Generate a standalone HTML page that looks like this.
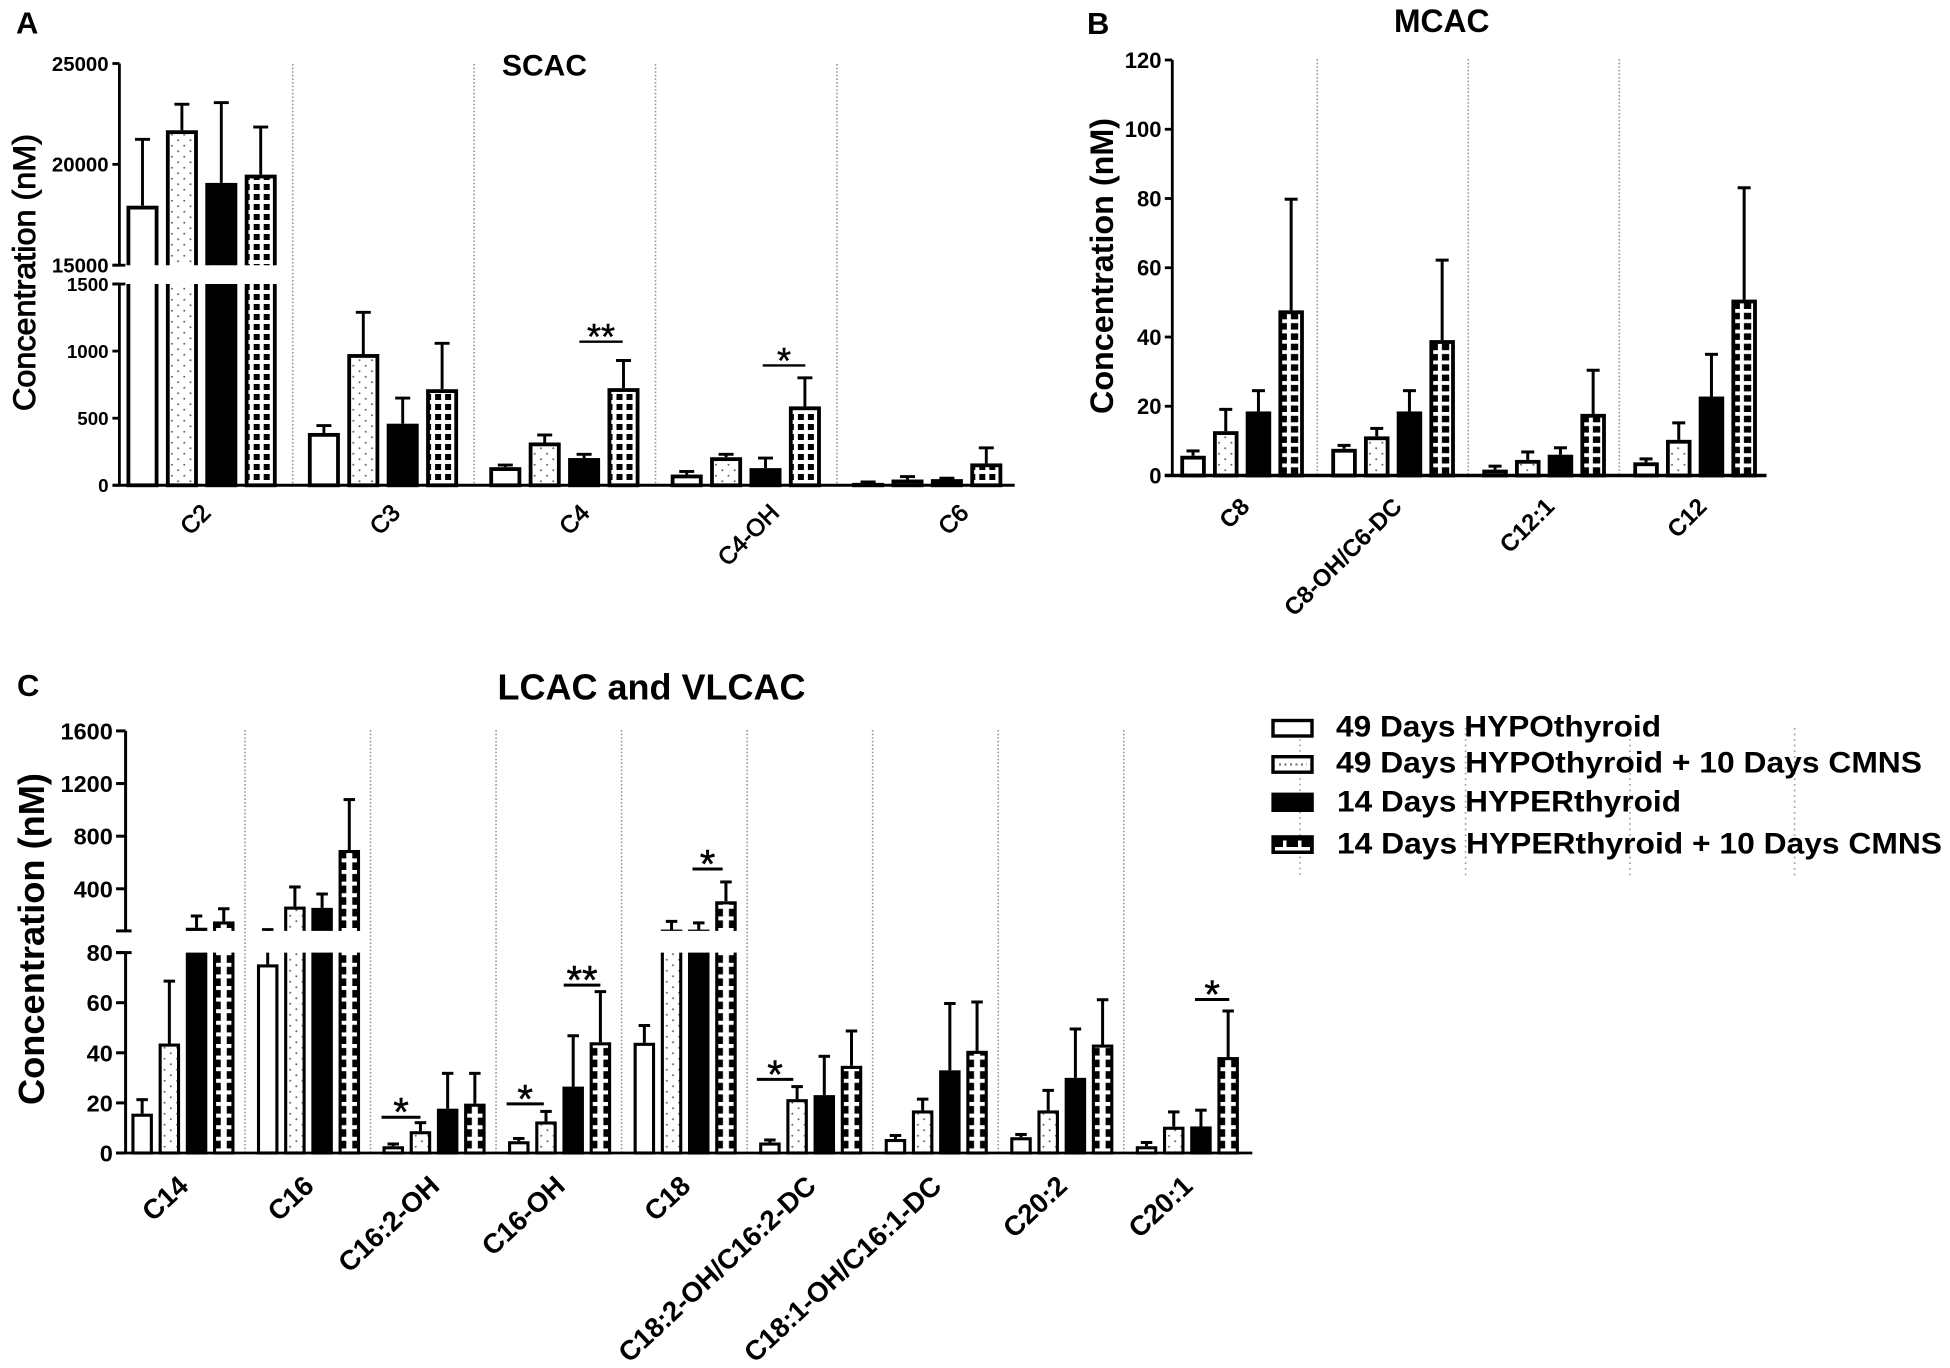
<!DOCTYPE html>
<html lang="en">
<head>
<meta charset="utf-8">
<title>Acylcarnitine concentrations</title>
<style>
html,body{margin:0;padding:0;background:#fff;}
svg{display:block;}
text{font-family:"Liberation Sans",sans-serif;fill:#000;}
</style>
</head>
<body>
<svg id="figure" xmlns="http://www.w3.org/2000/svg" width="1950" height="1368" viewBox="0 0 1950 1368">
<rect width="1950" height="1368" fill="#fff"/>
<defs id="defs"></defs>

<text x="16" y="33.5" font-size="31" font-weight="bold">A</text>
<text x="502" y="75.4" font-size="30" font-weight="bold" textLength="85" lengthAdjust="spacingAndGlyphs">SCAC</text>
<text transform="translate(35,411) rotate(-90)" font-size="31.5" stroke="#000" stroke-width="0.9" textLength="277" lengthAdjust="spacingAndGlyphs">Concentration (nM)</text>

<text x="1087" y="34" font-size="31" font-weight="bold">B</text>
<text x="1394" y="31.8" font-size="32" font-weight="bold" textLength="95.5" lengthAdjust="spacingAndGlyphs">MCAC</text>
<text transform="translate(1113,414) rotate(-90)" font-size="32.3" font-weight="bold" textLength="296" lengthAdjust="spacingAndGlyphs">Concentration (nM)</text>

<text x="17" y="696" font-size="31" font-weight="bold">C</text>
<text x="497.5" y="699.7" font-size="36" font-weight="bold" textLength="308" lengthAdjust="spacingAndGlyphs">LCAC and VLCAC</text>
<text transform="translate(44,1105) rotate(-90)" font-size="36" font-weight="bold" textLength="332" lengthAdjust="spacingAndGlyphs">Concentration (nM)</text>

<g id="panel-a"></g>
<g id="panel-b"></g>
<g id="panel-c"></g>

<g>
  <g stroke="#999" stroke-width="1.6" stroke-dasharray="1.6 4">
    <line x1="1300" y1="739" x2="1300" y2="878"/>
    <line x1="1465.6" y1="728" x2="1465.6" y2="878"/>
    <line x1="1630" y1="728" x2="1630" y2="878"/>
    <line x1="1794.6" y1="728" x2="1794.6" y2="878"/>
  </g>
  <g>
    <rect x="1273" y="720.5" width="39" height="15.5" fill="#fff" stroke="#000" stroke-width="3.4"/>
    <text x="1336" y="736.6" font-size="30" font-weight="bold" textLength="325" lengthAdjust="spacingAndGlyphs">49 Days HYPOthyroid</text>
  </g>
  <g>
    <rect x="1273" y="756.7" width="39" height="15.5" fill="#fff" stroke="#000" stroke-width="3.4"/>
    <line x1="1279" y1="764.5" x2="1307" y2="764.5" stroke="#777" stroke-width="2.2" stroke-dasharray="2 3.5"/>
    <text x="1336" y="772.6" font-size="30" font-weight="bold" textLength="586" lengthAdjust="spacingAndGlyphs">49 Days HYPOthyroid + 10 Days CMNS</text>
  </g>
  <g>
    <rect x="1271.4" y="792.6" width="42.4" height="19.4" fill="#000"/>
    <text x="1337" y="811.3" font-size="30" font-weight="bold" textLength="344" lengthAdjust="spacingAndGlyphs">14 Days HYPERthyroid</text>
  </g>
  <g>
    <rect x="1271.4" y="835.2" width="42.4" height="18.8" fill="#000"/>
    <path d="M1275 847h35v3.5h-35zM1283 840.5h3.5v7h-3.5zM1298 840.5h3.5v7h-3.5z" fill="#fff"/>
    <text x="1337" y="853.3" font-size="30" font-weight="bold" textLength="605" lengthAdjust="spacingAndGlyphs">14 Days HYPERthyroid + 10 Days CMNS</text>
  </g>
</g>
</svg>

<script>
/* ---------- Panel A (SCAC) data ---------- */
const panelA_categories = ["C2", "C3", "C4", "C4-OH", "C6"];
const panelA_hypo = [17950, 390, 135, 80, 18];
const panelA_hypoErr = [21240, 445, 151, 103, 25];
const panelA_hypoCmns = [21690, 978, 319, 209, 43];
const panelA_hypoCmnsErr = [22980, 1289, 375, 231, 65];
const panelA_hyper = [19080, 459, 203, 128, 46];
const panelA_hyperErr = [23060, 650, 231, 203, 53];
const panelA_hyperCmns = [19490, 716, 724, 588, 163];
const panelA_hyperCmnsErr = [21850, 1058, 930, 801, 279];
const panelA_tickValues = [0, 500, 1000, 1500, 15000, 20000, 25000];
const panelA_tickLabels = ["0", "500", "1000", "1500", "15000", "20000", "25000"];
const panelA_sigGroup = [2, 3];
const panelA_sigFrom = [1.88, 1.93];
const panelA_sigTo = [2.98, 3.01];
const panelA_sigLevel = [1070, 893];
const panelA_sigMark = ["**", "*"];

/* ---------- Panel B (MCAC) data ---------- */
const panelB_categories = ["C8", "C8-OH/C6-DC", "C12:1", "C12"];
const panelB_hypo = [5.7, 7.7, 1.7, 3.8];
const panelB_hypoErr = [7.1, 8.7, 2.7, 4.8];
const panelB_hypoCmns = [12.8, 11.3, 4.5, 10.3];
const panelB_hypoCmnsErr = [19.1, 13.6, 6.8, 15.2];
const panelB_hyper = [18.5, 18.5, 6, 22.8];
const panelB_hyperErr = [24.5, 24.5, 8, 35];
const panelB_hyperCmns = [47.7, 39.1, 17.8, 50.8];
const panelB_hyperCmnsErr = [79.8, 62.2, 30.4, 83.1];
const panelB_tickValues = [0, 20, 40, 60, 80, 100, 120];
const panelB_tickLabels = ["0", "20", "40", "60", "80", "100", "120"];

/* ---------- Panel C (LCAC and VLCAC) data ---------- */
const panelC_categories = ["C14", "C16", "C16:2-OH", "C16-OH", "C18", "C18:2-OH/C16:2-DC", "C18:1-OH/C16:1-DC", "C20:2", "C20:1"];
const panelC_hypo = [15.7, 75.3, 2.7, 4.7, 44, 4.2, 5.6, 6.3, 2.7];
const panelC_hypoErr = [21.3, 90, 3.6, 5.8, 50.9, 5.2, 7, 7.4, 4.2];
const panelC_hypoCmns = [43.7, 265, 8.7, 12.6, 90, 21.5, 17, 17, 10.5];
const panelC_hypoCmnsErr = [68.6, 414, 12.1, 16.6, 152, 26.5, 21.5, 25, 16.4];
const panelC_hyper = [104, 255, 17.7, 26.5, 90, 23.1, 33, 30, 10.6];
const panelC_hyperErr = [193, 360, 31.8, 46.8, 141, 38.6, 59.7, 49.5, 17.1];
const panelC_hyperCmns = [152, 695, 19.7, 44.2, 305, 34.8, 40.8, 43.3, 38.3];
const panelC_hyperCmnsErr = [248, 1078, 31.8, 64.4, 452, 48.7, 60.3, 61.2, 56.7];
const panelC_tickValues = [0, 20, 40, 60, 80, 400, 800, 1200, 1600];
const panelC_tickLabels = ["0", "20", "40", "60", "80", "400", "800", "1200", "1600"];
const panelC_sigGroup = [2, 3, 3, 4, 5, 8];
const panelC_sigFrom = [-0.43, -0.45, 1.65, 1.77, -0.48, 1.78];
const panelC_sigTo = [1, 0.92, 3, 2.88, 0.86, 3.04];
const panelC_sigLevel = [14.25, 19.6, 67, 550, 29.4, 61.3];
const panelC_sigMark = ["*", "*", "**", "*", "*", "*"];

const seriesKeys = ["hypo", "hypo-cmns", "hyper", "hyper-cmns"];
const SVGNS = "http://www.w3.org/2000/svg";
const defs = document.getElementById("defs");
let uid = 0;

function make(tag, attrs, parent) {
  const el = document.createElementNS(SVGNS, tag);
  for (const k in attrs) el.setAttribute(k, attrs[k]);
  if (parent) parent.appendChild(el);
  return el;
}

function dotPattern(barX) {
  const id = "dots" + (uid++);
  const p = make("pattern", {id: id, patternUnits: "userSpaceOnUse", width: 12.4, height: 11, patternTransform: "translate(" + barX + ",0)"}, defs);
  make("rect", {width: 12.4, height: 11, fill: "#fff"}, p);
  make("circle", {cx: 6, cy: 2.75, r: 1, fill: "#666"}, p);
  make("circle", {cx: 12.2, cy: 8.25, r: 1, fill: "#666"}, p);
  make("circle", {cx: -0.2, cy: 8.25, r: 1, fill: "#666"}, p);
  return id;
}

function gridPattern(barX, barW, g) {
  const id = "grid" + (uid++);
  const w = g.cross ? barW : g.pw;
  const off = g.cross ? 0 : g.off;
  const p = make("pattern", {id: id, patternUnits: "userSpaceOnUse", width: w, height: g.ph, patternTransform: "translate(" + (barX + off) + ",0)"}, defs);
  make("rect", {width: w, height: g.ph, fill: "#000"}, p);
  if (g.cross) {
    make("rect", {x: (w - g.vw) / 2, y: 0, width: g.vw, height: g.ph, fill: "#fff"}, p);
    make("rect", {x: g.inset, y: 0, width: w - 2 * g.inset, height: g.hw, fill: "#fff"}, p);
  } else {
    make("rect", {x: 0, y: 0, width: g.vw, height: g.ph, fill: "#fff"}, p);
    make("rect", {x: 0, y: 0, width: w, height: g.hw, fill: "#fff"}, p);
  }
  return id;
}

function drawPanel(cfg, categories, values, errors, tickValues, tickLabels, sig) {
  const root = document.getElementById(cfg.id);

  /* value axis: piecewise when the axis is broken */
  function yScale(v) {
    if (v <= cfg.lowMax) return cfg.y0 + (cfg.lowTop - cfg.y0) * v / cfg.lowMax;
    return cfg.upBottom + (cfg.upTop - cfg.upBottom) * (v - cfg.upMin) / (cfg.upMax - cfg.upMin);
  }
  function groupX(i) { return cfg.x0 + i * cfg.pitch; }
  function barX(i, s) { return groupX(i) + s * cfg.barPitch; }
  function barCenter(i, pos) { return groupX(i) + cfg.barW / 2 + pos * cfg.barPitch; }

  /* clip removing the break band */
  const clipId = cfg.id + "-clip";
  const clip = make("clipPath", {id: clipId}, defs);
  if (cfg.upTop !== undefined) {
    make("rect", {x: 0, y: 0, width: 1950, height: cfg.upBottom}, clip);
    make("rect", {x: 0, y: cfg.lowTop, width: 1950, height: 1368 - cfg.lowTop}, clip);
  } else {
    make("rect", {x: 0, y: 0, width: 1950, height: 1368}, clip);
  }

  /* separators between groups */
  for (let i = 1; i < categories.length; i++) {
    const x = groupX(i) - cfg.gridOff;
    const line = make("line", {x1: x, x2: x, y1: cfg.gridTop, y2: cfg.y0, stroke: "#999", "stroke-width": 1.6, "stroke-dasharray": "1.6 2"}, root);
    
    
  }

  /* bars and error bars */
  const marks = make("g", {"clip-path": "url(#" + clipId + ")"}, root);
  
  
  categories.forEach(function (cat, i) {
    for (let s = 0; s < 4; s++) {
      const x = barX(i, s);
      const cx = x + cfg.barW / 2;
      const top = yScale(values[s][i]);
      const errTop = yScale(errors[s][i]);

      const err = make("line", {x1: cx, x2: cx, y1: top, y2: errTop, stroke: "#000", "stroke-width": cfg.errW}, marks);
      
      
      const cap = make("line", {x1: cx - cfg.capW / 2, x2: cx + cfg.capW / 2, y1: errTop, y2: errTop, stroke: "#000", "stroke-width": cfg.errW}, marks);
      
      

      let fill = "#fff";
      if (s === 1) fill = "url(#" + dotPattern(x) + ")";
      if (s === 2) fill = "#000";
      if (s === 3) fill = "url(#" + gridPattern(x, cfg.barW, cfg.grid) + ")";
      const sw = cfg.barStroke;
      const rectH = Math.max(0.5, cfg.y0 - top - sw / 2);
      const bar = make("rect", {x: x + sw / 2, y: top + sw / 2, width: cfg.barW - sw, height: rectH, fill: fill, stroke: "#000", "stroke-width": sw}, marks);
      
      
    }

    /* category label */
    const lx = cfg.labelX0 !== undefined
      ? cfg.labelX0 + i * cfg.labelPitch
      : groupX(i) + (cfg.barPitch * 3 + cfg.barW) / 2 + cfg.labelDX;
    const ly = cfg.y0 + cfg.labelDY;
    const lab = make("text", {transform: "translate(" + lx + "," + ly + ") rotate(" + cfg.labelRot + ")", "text-anchor": "end", "font-size": cfg.labelFont, "font-weight": cfg.labelWeight, stroke: "#000", "stroke-width": cfg.labelStroke}, root);
    lab.textContent = cat;
    
    
  });

  /* axis lines */
  const axisSegments = cfg.upTop !== undefined
    ? [[cfg.upTop, cfg.upBottom], [cfg.lowTop, cfg.y0]]
    : [[cfg.lowTop, cfg.y0]];
  axisSegments.forEach(function (seg) {
    const ax = make("line", {x1: cfg.axisX, x2: cfg.axisX, y1: seg[0], y2: seg[1], stroke: "#000", "stroke-width": cfg.axisW}, root);
    
    
  });
  const base = make("line", {x1: cfg.baseX1, x2: cfg.baseX2, y1: cfg.y0, y2: cfg.y0, stroke: "#000", "stroke-width": cfg.baseW}, root);
  
  

  /* ticks */
  tickValues.forEach(function (v, i) {
    const y = yScale(v);
    const t = make("line", {x1: cfg.axisX - cfg.tickLen, x2: cfg.axisX, y1: y, y2: y, stroke: "#000", "stroke-width": cfg.axisW}, root);
    
    
    const fs = v > cfg.lowMax ? cfg.tickFontUp : cfg.tickFontLow;
    const lab = make("text", {x: cfg.tickLabelX, y: y + fs * 0.36, "text-anchor": "end", "font-size": fs, "font-weight": "bold"}, root);
    lab.textContent = tickLabels[i];
    
    
  });

  /* break marker ticks */
  if (cfg.upTop !== undefined) {
    [cfg.upBottom, cfg.lowTop].forEach(function (y) {
      const b = make("line", {x1: cfg.axisX - cfg.tickLen, x2: cfg.axisX + cfg.breakRight, y1: y, y2: y, stroke: "#000", "stroke-width": cfg.axisW}, root);
      
      
    });
  }

  /* significance brackets */
  if (sig) {
    sig.group.forEach(function (g, k) {
      const y = yScale(sig.level[k]);
      const x1 = barCenter(g, sig.from[k]);
      const x2 = barCenter(g, sig.to[k]);
      const ln = make("line", {x1: x1, x2: x2, y1: y, y2: y, stroke: "#000", "stroke-width": cfg.sigW}, root);
      
      
      const st = make("text", {x: (x1 + x2) / 2, y: y - cfg.sigGap + cfg.starFont * 0.56, "text-anchor": "middle", "font-size": cfg.starFont, "font-weight": "normal", stroke: "#000", "stroke-width": 0.5}, root);
      st.textContent = sig.mark[k];
      
      
    });
  }
}

drawPanel({
  id: "panel-a", y0: 485.3, lowTop: 284, lowMax: 1500, upBottom: 265.2, upTop: 63.5, upMin: 15000, upMax: 25000,
  x0: 126.5, pitch: 181.4, barPitch: 39.4, barW: 32, barStroke: 3.8, errW: 2.9, capW: 15,
  axisX: 119.4, axisW: 2.8, baseX1: 112.8, baseX2: 1014.7, baseW: 3, tickLen: 7, breakRight: 6,
  tickLabelX: 108.6, tickFontLow: 18.8, tickFontUp: 20.4,
  gridOff: 15.2, gridTop: 64, labelX0: 212, labelPitch: 189.5, labelDY: 29, labelRot: -45, labelFont: 24, labelWeight: "normal", labelStroke: 0.8,
  sigW: 2.4, sigGap: 12.7, starFont: 36,
  grid: {pw: 10, ph: 10, vw: 4, hw: 4, off: 5}
}, panelA_categories,
  [panelA_hypo, panelA_hypoCmns, panelA_hyper, panelA_hyperCmns],
  [panelA_hypoErr, panelA_hypoCmnsErr, panelA_hyperErr, panelA_hyperCmnsErr],
  panelA_tickValues, panelA_tickLabels,
  {group: panelA_sigGroup, from: panelA_sigFrom, to: panelA_sigTo, level: panelA_sigLevel, mark: panelA_sigMark});

drawPanel({
  id: "panel-b", y0: 475.5, lowTop: 60, lowMax: 120,
  x0: 1180.3, pitch: 151, barPitch: 32.7, barW: 25.5, barStroke: 3.8, errW: 3, capW: 13,
  axisX: 1172.3, axisW: 2.8, baseX1: 1164.8, baseX2: 1766.5, baseW: 3.6, tickLen: 7.5,
  tickLabelX: 1161.5, tickFontLow: 22, tickFontUp: 22,
  gridOff: 14, gridTop: 59, labelX0: 1251, labelPitch: 152.4, labelDY: 32.5, labelRot: -45, labelFont: 24, labelWeight: "bold", labelStroke: 0,
  grid: {pw: 11.3, ph: 10.3, vw: 4, hw: 3.8, off: 8.5}
}, panelB_categories,
  [panelB_hypo, panelB_hypoCmns, panelB_hyper, panelB_hyperCmns],
  [panelB_hypoErr, panelB_hypoCmnsErr, panelB_hyperErr, panelB_hyperCmnsErr],
  panelB_tickValues, panelB_tickLabels, null);

drawPanel({
  id: "panel-c", y0: 1153, lowTop: 952.6, lowMax: 80, upBottom: 930.9, upTop: 730.9, upMin: 80, upMax: 1600,
  x0: 131.4, pitch: 125.55, barPitch: 27.2, barW: 21.5, barStroke: 3.1, errW: 3, capW: 11.5,
  axisX: 125.6, axisW: 3, baseX1: 116, baseX2: 1252.3, baseW: 2.8, tickLen: 9.5, breakRight: 6,
  tickLabelX: 112.8, tickFontLow: 23.5, tickFontUp: 23.5,
  gridOff: 12, gridTop: 730, labelDX: 7, labelDY: 35, labelRot: -43, labelFont: 27.6, labelWeight: "bold", labelStroke: 0,
  sigW: 3, sigGap: 14, starFont: 40,
  grid: {cross: true, ph: 11.6, vw: 6, hw: 4, inset: 2.5}
}, panelC_categories,
  [panelC_hypo, panelC_hypoCmns, panelC_hyper, panelC_hyperCmns],
  [panelC_hypoErr, panelC_hypoCmnsErr, panelC_hyperErr, panelC_hyperCmnsErr],
  panelC_tickValues, panelC_tickLabels,
  {group: panelC_sigGroup, from: panelC_sigFrom, to: panelC_sigTo, level: panelC_sigLevel, mark: panelC_sigMark});
</script>
</body>
</html>
